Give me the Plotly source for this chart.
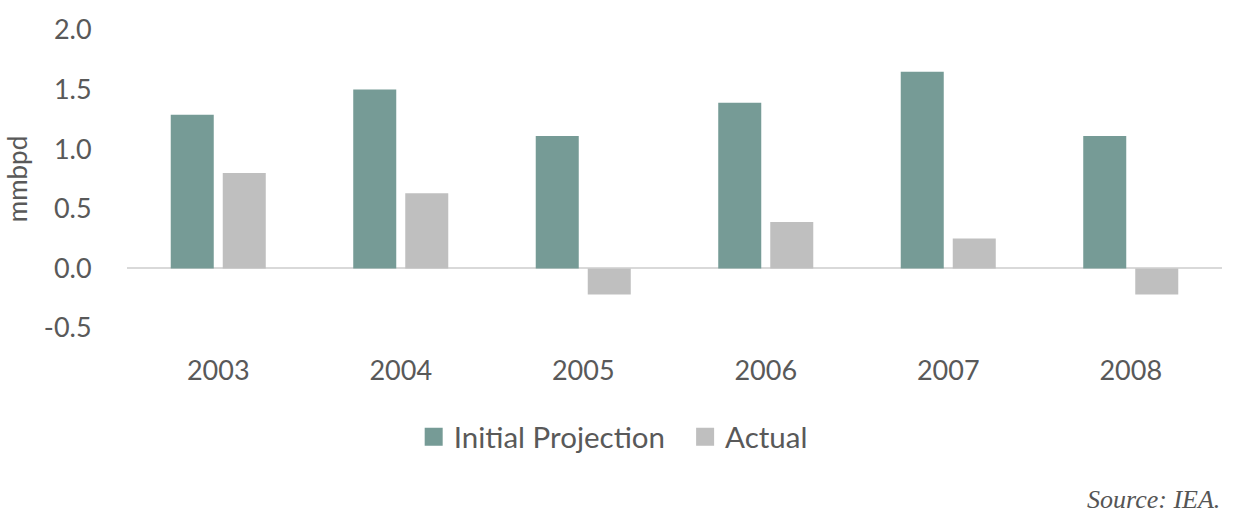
import plotly.graph_objects as go

years = ["2003", "2004", "2005", "2006", "2007", "2008"]
initial_projection = [1.29, 1.50, 1.11, 1.39, 1.65, 1.11]
actual = [0.80, 0.63, -0.22, 0.39, 0.25, -0.22]
y_ticks = [-0.5, 0.0, 0.5, 1.0, 1.5, 2.0]
y_tick_labels = ["-0.5", "0.0", "0.5", "1.0", "1.5", "2.0"]

FONT = "Lato, Source Sans Pro, Noto Sans, sans-serif"
TXT = "#595959"
C_INIT = "#769b96"
C_ACT = "#bfbfbf"

fig = go.Figure()
fig.add_trace(go.Bar(x=years, y=initial_projection, name="Initial Projection",
                     marker=dict(color=C_INIT, line=dict(width=0)), showlegend=False))
fig.add_trace(go.Bar(x=years, y=actual, name="Actual",
                     marker=dict(color=C_ACT, line=dict(width=0)), showlegend=False))
# legend entries with larger square swatches
for name, col in [("Initial Projection\u00a0\u00a0", C_INIT), ("Actual", C_ACT)]:
    fig.add_trace(go.Scatter(x=[None], y=[None], mode="markers", name=name,
                             marker=dict(symbol="square", size=16, color=col,
                                         line=dict(color=col, width=2))))

fig.update_layout(
    width=1234, height=520,
    margin=dict(l=127, r=12, t=30, b=192),
    paper_bgcolor="white", plot_bgcolor="white",
    barmode="group", bargap=0.43, bargroupgap=0.173,
    font=dict(family=FONT, color=TXT, size=27),
    showlegend=True,
    legend=dict(orientation="h", x=0.444, xanchor="center", y=-0.366, yanchor="middle",
                font=dict(size=29.5, color=TXT), itemsizing="trace",
                traceorder="normal"),
    xaxis=dict(type="category", showgrid=False, showline=False, zeroline=False,
               ticks="outside", ticklen=19, tickcolor="rgba(0,0,0,0)",
               tickfont=dict(size=27, color=TXT)),
    yaxis=dict(range=[-0.5, 2.0], tickvals=y_ticks, ticktext=y_tick_labels,
               showgrid=False, showline=False, zeroline=True, zerolinecolor="#d9d9d9",
               zerolinewidth=2, ticks="outside", ticklen=29, tickcolor="rgba(0,0,0,0)",
               tickfont=dict(size=27, color=TXT),
               title=dict(text="mmbpd", font=dict(size=26, color=TXT), standoff=8)),
    annotations=[dict(text="<i>Source: IEA.</i>", xref="paper", yref="paper",
                      x=1.0, y=-0.577, xanchor="right", yanchor="middle", showarrow=False,
                      font=dict(family="Liberation Serif, DejaVu Serif, serif", size=26,
                                color="#555555"))],
)

fig.write_html("out.html", config={"displayModeBar": False},
               post_script="document.body.style.margin='0';")
